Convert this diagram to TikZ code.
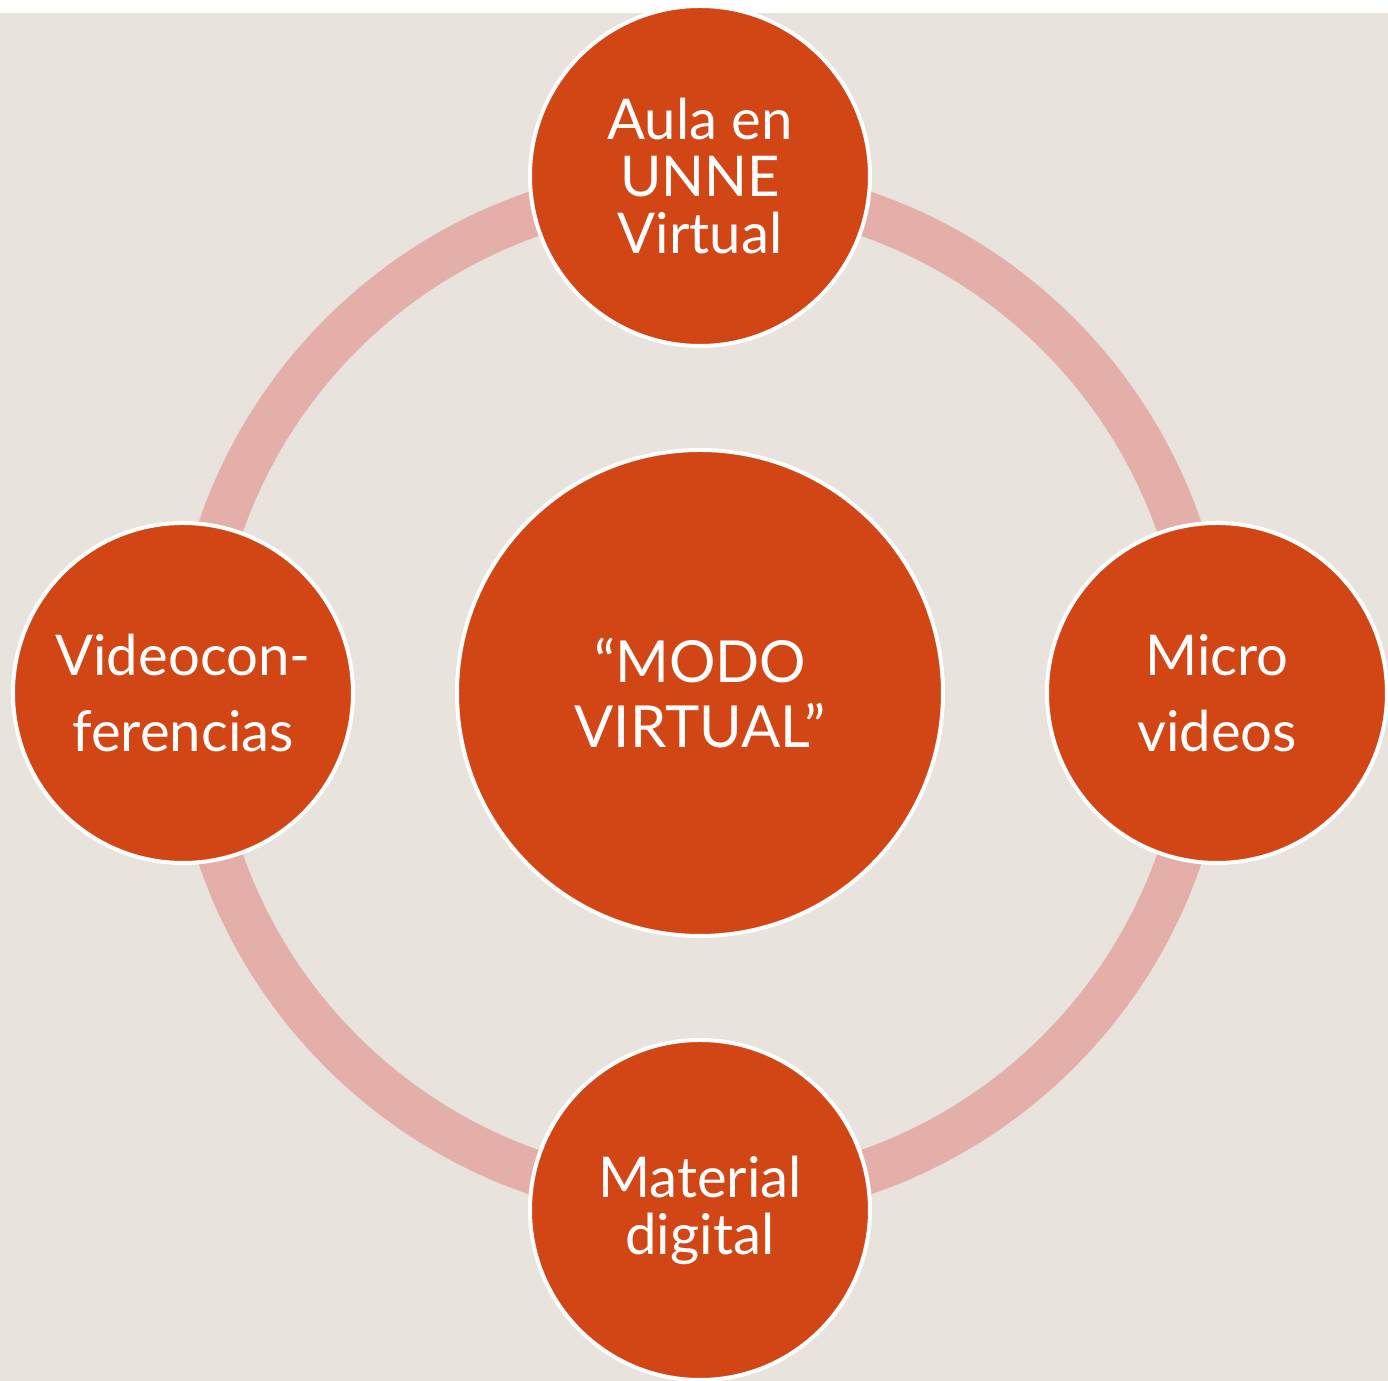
\documentclass[tikz,border=0pt]{standalone}
\usepackage{fontspec}
\setmainfont{Lato}
\usetikzlibrary{positioning}
\definecolor{paper}{HTML}{E8E4DD}
\definecolor{rust}{HTML}{D24616}
\definecolor{rose}{HTML}{E3AFA8}
\tikzstyle{hub} = [circle, minimum size=4.86cm, draw=white, line width=0.04cm, fill=rust, text=white, align=center, font=\fontsize{16.5}{18.5}\selectfont]
\tikzstyle{spoke} = [circle, minimum size=3.4cm, draw=white, line width=0.04cm, fill=rust, text=white, align=center, font=\fontsize{16}{16.2}\selectfont]
\tikzstyle{ring} = [rose, line width=0.45cm]

\begin{document}
\begin{tikzpicture}[node distance=1cm]
	
	\useasboundingbox (-7,-6.88) rectangle (6.88,6.93);
	\fill[paper] (-7,-6.88) rectangle (6.88,6.80);
	
	\node (modo) [hub] at (0,0) {“MODO\\VIRTUAL”};
	
	\draw [ring] (modo.center) circle (5.07cm);
	
	\node (aula) [spoke, above=of modo] {Aula en\\UNNE\\Virtual};
	
	\node (micro) [spoke, right=of modo, font=\fontsize{16}{21.5}\selectfont] {Micro\\videos};
	
	\node (material) [spoke, below=of modo] {Material\\digital};
	
	\node (videoconf) [spoke, left=of modo, font=\fontsize{16}{21.5}\selectfont] {Videocon-\\ferencias};
	
\end{tikzpicture}
\end{document}
